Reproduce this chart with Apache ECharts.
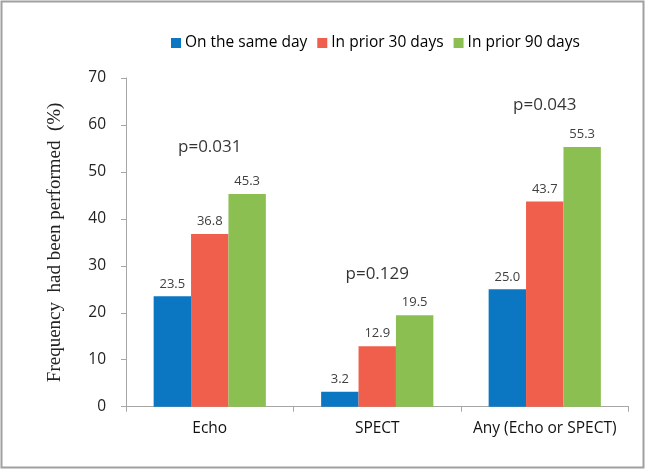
<!DOCTYPE html>
<html><head><meta charset="utf-8">
<script src="https://cdn.jsdelivr.net/npm/echarts@6/dist/echarts.min.js"></script>
<style>html,body{margin:0;padding:0;background:#fff}#c{width:646px;height:470px}</style>
</head><body><div id="c"></div>
<script>
const categories = ['Echo', 'SPECT', 'Any (Echo or SPECT)'];
const seriesNames = ['On the same day', 'In prior 30 days', 'In prior 90 days'];
const sameDay = [23.5, 3.2, 25.0];
const prior30 = [36.8, 12.9, 43.7];
const prior90 = [45.3, 19.5, 55.3];
const pLabels = ['p=0.031', 'p=0.129', 'p=0.043'];
const pLevels = [55.3, 28.3, 64.2];
const yTicks = [0, 10, 20, 30, 40, 50, 60, 70];
const colors = ['#0b77c2', '#ef5f4b', '#8bbf52'];
const FONT = 'Open Sans';

const chart = echarts.init(document.getElementById('c'), null, {renderer: 'canvas'});
const valueLabel = {show: true, position: 'top', distance: 6, color: '#404040', fontSize: 13, fontFamily: FONT,
  formatter: p => p.value.toFixed(1)};
const mk = (name, data, i) => ({
  name, type: 'bar', data, barGap: '0%', barCategoryGap: '33%',
  itemStyle: {color: colors[i]}, label: valueLabel
});
const series = [mk(seriesNames[0], sameDay, 0), mk(seriesNames[1], prior30, 1), mk(seriesNames[2], prior90, 2)];
series.push({
  type: 'scatter', data: categories.map((c, i) => [c, pLevels[i]]), symbolSize: 0, silent: true,
  label: {show: true, position: 'inside', color: '#000', fontSize: 17, fontFamily: FONT,
    formatter: p => pLabels[p.dataIndex]},
  tooltip: {show: false}
});
chart.setOption({
  animation: false,
  textStyle: {fontFamily: FONT},
  legend: {
    data: seriesNames, top: 30, left: 166, itemWidth: 10, itemHeight: 10, itemGap: 10,
    icon: 'rect', textStyle: {fontSize: 15.5, color: '#000', fontFamily: FONT, padding: [0, 0, 0, -1]}
  },
  grid: {left: 126, right: 17.5, top: 78, bottom: 63.3},
  xAxis: {
    type: 'category', data: categories,
    axisLine: {lineStyle: {color: '#a6a6a6', width: 1}},
    axisTick: {show: true, length: 5, lineStyle: {color: '#a6a6a6'}},
    axisLabel: {color: '#111', fontSize: 15.5, margin: 14, interval: 0, fontFamily: FONT}
  },
  yAxis: {
    type: 'value', min: yTicks[0], max: yTicks[yTicks.length - 1], interval: 10,
    name: 'Frequency  had been performed  (%)', nameLocation: 'middle', nameGap: 61,
    nameTextStyle: {fontFamily: 'Liberation Serif', fontSize: 19, color: '#222'},
    axisLine: {show: true, lineStyle: {color: '#a6a6a6', width: 1}},
    axisTick: {show: true, length: 5, lineStyle: {color: '#a6a6a6'}},
    splitLine: {show: false},
    axisLabel: {color: '#222', fontSize: 15.5, margin: 20, fontFamily: FONT}
  },
  graphic: [{type: 'rect', shape: {x: 1.5, y: 1.5, width: 642, height: 466},
    style: {fill: 'none', stroke: '#a0a0a0', lineWidth: 2}, silent: true, z: 100}],
  series
});
</script></body></html>
